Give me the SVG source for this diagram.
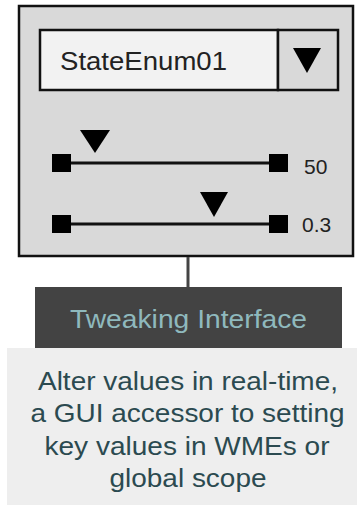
<svg xmlns="http://www.w3.org/2000/svg" width="357" height="505" viewBox="0 0 357 505">
<style>
.frame{fill:#d9d9d9;stroke:#111;stroke-width:2.5}
.field{fill:#f2f2f2;stroke:#111;stroke-width:2.5}
.btn{fill:#d9d9d9;stroke:#111;stroke-width:2.5}
.blk{fill:#000}
.track{stroke:#111;stroke-width:3}
.num{font-family:"Liberation Sans",Arial,sans-serif;font-size:21px;fill:#222}
.big{font-family:"Liberation Sans",Arial,sans-serif;font-size:26px}
.conn{stroke:#444;stroke-width:3;fill:none}
</style>
<rect x="0" y="0" width="357" height="505" fill="#fff"/>
<g id="widget">
  <rect class="frame" x="19" y="6" width="334" height="250"/>
  <g id="dropdown">
    <rect class="field" x="40" y="30" width="238" height="60"/>
    <rect class="btn" x="278" y="30" width="60" height="60"/>
    <polygon class="blk" points="293,48 321,48 307,73"/>
    <text class="big" x="60" y="70" fill="#222" textLength="167" lengthAdjust="spacingAndGlyphs">StateEnum01</text>
  </g>
  <g id="slider1">
    <line class="track" x1="70" y1="163" x2="270" y2="163"/>
    <rect class="blk" x="52" y="154" width="19" height="18"/>
    <rect class="blk" x="269" y="154" width="19" height="18"/>
    <polygon class="blk" points="80,130 110,130 95,153"/>
    <text class="num" x="304" y="174">50</text>
  </g>
  <g id="slider2">
    <line class="track" x1="70" y1="224" x2="270" y2="224"/>
    <rect class="blk" x="52" y="215" width="19" height="18"/>
    <rect class="blk" x="269" y="215" width="19" height="18"/>
    <polygon class="blk" points="200,192 228,192 214,217"/>
    <text class="num" x="302" y="232">0.3</text>
  </g>
</g>
<g id="connectors">
  <line class="conn" x1="188" y1="257" x2="188" y2="288"/>
</g>
<g id="title">
  <rect x="35" y="287" width="307" height="61" fill="#434343"/>
  <text class="big" x="188.5" y="328" text-anchor="middle" fill="#8fb9bd" textLength="237" lengthAdjust="spacingAndGlyphs">Tweaking Interface</text>
</g>
<g id="description">
  <rect x="7" y="348" width="350" height="157" fill="#eeeeee"/>
  <g class="big" fill="#2b4a50" text-anchor="middle">
    <text x="188" y="390" textLength="300" lengthAdjust="spacingAndGlyphs">Alter values in real-time,</text>
    <text x="187.5" y="422" textLength="314" lengthAdjust="spacingAndGlyphs">a GUI accessor to setting</text>
    <text x="187" y="455" textLength="285" lengthAdjust="spacingAndGlyphs">key values in WMEs or</text>
    <text x="188" y="487" textLength="157" lengthAdjust="spacingAndGlyphs">global scope</text>
  </g>
</g>
</svg>
